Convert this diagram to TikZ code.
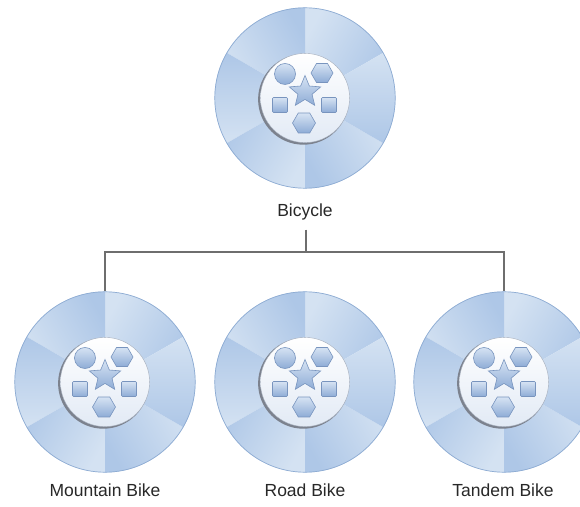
\documentclass[tikz,border=0pt]{standalone}
\usepackage{fontspec}
\setmainfont{Liberation Sans}
\begin{document}
\definecolor{wheellight}{RGB}{212,226,242}
\definecolor{wheeldark}{RGB}{174,199,231}
\definecolor{wheelrim}{RGB}{142,172,211}
\definecolor{innerfill}{RGB}{226,234,245}
\definecolor{innershadow}{RGB}{124,130,142}
\definecolor{innerrim}{RGB}{165,174,188}
\definecolor{shapelight}{RGB}{214,227,243}
\definecolor{shapedark}{RGB}{142,172,214}
\definecolor{shapeedge}{RGB}{120,148,190}
\definecolor{linkgray}{RGB}{110,110,110}
\definecolor{labelgray}{RGB}{40,40,40}
\tikzset{
  wheelnode/.style={circle, minimum size=181pt, inner sep=0pt, outer sep=0pt},
  lbl/.style={font=\fontsize{17.5}{20}\selectfont, text=labelgray, inner sep=2pt},
  link/.style={draw=linkgray, line width=1.2pt},
  shapefill/.style={top color=shapelight, bottom color=shapedark, draw=shapeedge, line width=0.6pt},
  wheel/.pic={
    % six fan-shaded sectors of the outer ring
    \foreach \k in {0,...,5}{
      \pgfmathsetmacro\a{30+60*\k}
      \pgfmathsetmacro\m{60+60*\k}
      \shade[top color=wheellight, bottom color=wheeldark, shading angle=\m]
        (0,0) -- (\a:90.5) arc[start angle=\a, delta angle=60, radius=90.5] -- cycle;
    }
    \draw[wheelrim, line width=0.7pt] (0,0) circle[radius=90.2];
    % inner hub with a soft shadowed rim
    \fill[innershadow] (-1.6,-1.4) circle[radius=45.3];
    \shade[top color=white, bottom color=innerfill] (0,0) circle[radius=44.6];
    \draw[innerrim, line width=0.4pt] (0,0) circle[radius=44.6];
    % small shapes on the hub
    \shade[shapefill] (-20,24) circle[radius=10.5];
    \begin{scope}[shift={(17,25)}]
      \shade[shapefill] (0:11) -- (60:11) -- (120:11) -- (180:11) -- (240:11) -- (300:11) -- cycle;
    \end{scope}
    \begin{scope}[shift={(-1,-25)}]
      \shade[shapefill] (0:11.5) -- (60:11.5) -- (120:11.5) -- (180:11.5) -- (240:11.5) -- (300:11.5) -- cycle;
    \end{scope}
    \shade[shapefill, rounded corners=1pt] (-32.5,-14.5) rectangle (-17.5,0.5);
    \shade[shapefill, rounded corners=1pt] (16.5,-14.5) rectangle (31.5,0.5);
    \begin{scope}[shift={(0,6)}]
      \shade[shapefill] (90:16.5) -- (126:7.4) -- (162:16.5) -- (198:7.4) -- (234:16.5)
        -- (270:7.4) -- (306:16.5) -- (342:7.4) -- (18:16.5) -- (54:7.4) -- cycle;
    \end{scope}
  }
}
\begin{tikzpicture}[x=1pt,y=1pt]
  \useasboundingbox (0,0) rectangle (580,506);
  \fill[white] (0,0) rectangle (580,506);

  % wheels
  \node[wheelnode] (bicycle) at (305,408) {};
  \node[wheelnode] (mountain) at (105,124) {};
  \node[wheelnode] (road) at (305,124) {};
  \node[wheelnode] (tandem) at (504,124) {};
  \foreach \n in {bicycle,mountain,road,tandem}{
    \path (\n.center) pic {wheel};
  }

  % labels
  \node[lbl, anchor=base, outer ysep=7pt] (bicycle-lbl) at (305,289) {Bicycle};
  \node[lbl, anchor=base] (mountain-lbl) at (105,10) {Mountain Bike};
  \node[lbl, anchor=base] (road-lbl) at (305,10) {Road Bike};
  \node[lbl, anchor=base] (tandem-lbl) at (503,10) {Tandem Bike};

  % hierarchy connectors
  \coordinate (bus) at (306,254);
  \draw[link] (bus |- bicycle-lbl.south) -- (bus);
  \draw[link] (mountain.north) |- (bus) -| (tandem.north);
\end{tikzpicture}
\end{document}
